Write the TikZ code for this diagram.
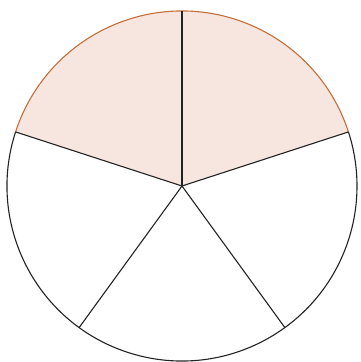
\documentclass[tikz,border=0pt]{standalone}
\usepackage{xcolor}
\usepackage{tikz}
\usetikzlibrary{calc}
\definecolor{SliceRose}{RGB}{247,230,224}
\definecolor{RimOrange}{RGB}{196,110,56}
\definecolor{EdgeGrey}{RGB}{35,35,35}
\tikzset{
  rim/.style={line width=1.1pt, draw=EdgeGrey},
  hotrim/.style={line width=1.1pt, draw=RimOrange},
  spoke/.style={line width=1.1pt, draw=EdgeGrey},
  shaded/.style={fill=SliceRose, draw=none},
}
\begin{document}
\begin{tikzpicture}[x=1pt,y=1pt]
  \useasboundingbox (0,0) rectangle (360,362);
  \coordinate (ctr) at (182,176);
  \def\rad{175}
  % two top slices
  \fill[shaded] (ctr) -- ++(18:\rad) arc[start angle=18, end angle=162, radius=\rad] -- cycle;
  \draw[rim] (ctr) ++(162:\rad) arc[start angle=162, end angle=378, radius=\rad];
  \draw[hotrim] (ctr) ++(18:\rad) arc[start angle=18, end angle=162, radius=\rad];
  \foreach \a [count=\k] in {90,162,234,306,18} {
    \coordinate (p\k) at ($(ctr)+(\a:\rad)$);
  }
  \foreach \k in {1,...,5}
    \draw[spoke] (ctr) -- (p\k);
\end{tikzpicture}
\end{document}
